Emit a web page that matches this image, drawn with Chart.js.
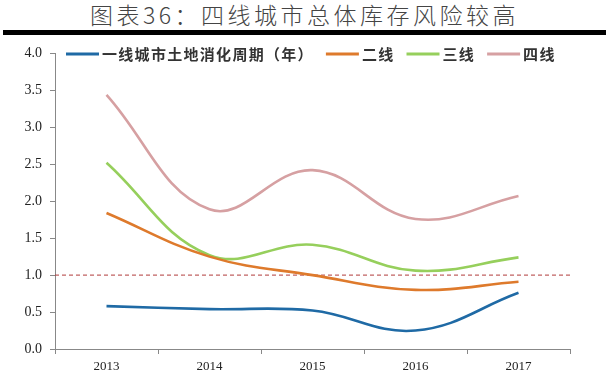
<!DOCTYPE html>
<html><head><meta charset="utf-8">
<script src="https://cdn.jsdelivr.net/npm/chart.js@4/dist/chart.umd.min.js"></script>
<style>
html,body{margin:0;padding:0;background:#fff;}
#title{position:absolute;left:0;top:0;width:609px;height:29px;line-height:29px;text-align:center;font-family:"Noto Sans CJK SC",sans-serif;font-weight:300;font-size:23px;color:#444;letter-spacing:3.5px;}
#bar{position:absolute;left:3px;top:30px;width:603px;height:5px;background:#000;}
#wrap{position:absolute;left:0;top:37px;width:609px;height:344px;}
</style></head>
<body>
<div id="title">图表36：四线城市总体库存风险较高</div>
<div id="bar"></div>
<div id="wrap"><canvas id="c" width="609" height="344"></canvas></div>
<script>
const categories = ["2013","2014","2015","2016","2017"];
const seriesNames = ["一线城市土地消化周期（年）","二线","三线","四线"];
const tier1 = [0.58,0.54,0.52,0.25,0.76];
const tier2 = [1.84,1.25,1.00,0.80,0.91];
const tier3 = [2.52,1.27,1.41,1.06,1.24];
const tier4 = [3.44,1.89,2.42,1.76,2.07];
const threshold = [1,1,1,1,1];
const yTicks = [0,0.5,1,1.5,2,2.5,3,3.5,4];

const colors = ["#1F6AA5","#DE7A2C","#96CF5C","#D6A0A2"];
const mk = (i,d)=>({label:seriesNames[i],data:d,borderColor:colors[i],backgroundColor:colors[i],borderWidth:2.6,pointRadius:0,tension:0.4,fill:false});

const legendPlugin = {
  id:'customLegend',
  afterDraw(chart){
    const ctx = chart.ctx;
    ctx.save();
    ctx.font = 'bold 15px "Noto Sans CJK SC", sans-serif';
    ctx.fillStyle = '#333';
    ctx.textBaseline = 'middle';
    const adv = 16.3;
    let x = 66, y = 17;
    chart.data.datasets.forEach(ds=>{
      if(ds.isThreshold) return;
      ctx.strokeStyle = ds.borderColor;
      ctx.lineWidth = 3;
      ctx.beginPath(); ctx.moveTo(x,y); ctx.lineTo(x+33,y); ctx.stroke();
      x += 36;
      for(const ch of ds.label){ ctx.fillText(ch,x,y); x += adv; }
      x += 12;
    });
    ctx.restore();
  }
};

new Chart(document.getElementById('c'),{
  type:'line',
  data:{labels:categories,datasets:[
    mk(0,tier1),mk(1,tier2),mk(2,tier3),mk(3,tier4),
    {label:'threshold',isThreshold:true,data:threshold,xAxisID:'x2',borderColor:'#B03A3A',borderWidth:1,borderDash:[4,3],pointRadius:0,tension:0,fill:false}
  ]},
  options:{
    responsive:false,animation:false,
    layout:{padding:{top:7,right:39,left:0,bottom:0}},
    plugins:{legend:{display:false},tooltip:{enabled:false}},
    scales:{
      x:{
        offset:true,
        grid:{offset:true,drawOnChartArea:false,drawTicks:true,tickLength:5,color:'#888'},
        border:{color:'#888',width:1},
        ticks:{color:'#222',font:{family:'"Liberation Serif", serif',size:13},padding:5},
        afterFit(s){s.height=32;}
      },
      x2:{type:'category',labels:categories,offset:false,display:false},
      y:{
        min:0,max:4,
        afterBuildTicks(s){s.ticks=yTicks.map(v=>({value:v}));},
        grid:{drawOnChartArea:false,drawTicks:true,tickLength:5,color:'#888'},
        border:{color:'#888',width:1},
        ticks:{color:'#222',font:{family:'"Liberation Serif", serif',size:14},padding:8,callback:v=>Number(v).toFixed(1)},
        afterFit(s){s.width=55;}
      }
    }
  },
  plugins:[legendPlugin]
});
</script>
</body></html>
